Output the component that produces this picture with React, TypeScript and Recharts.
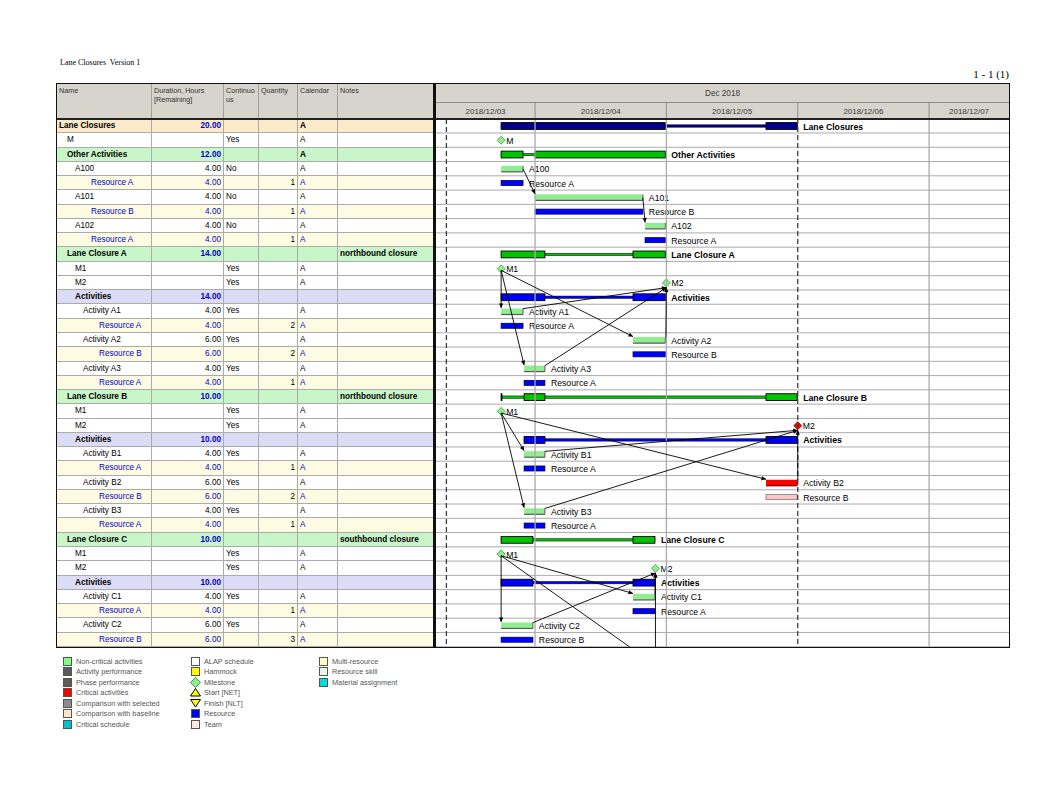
import React from "react";
import { Bar, BarChart, ReferenceLine, XAxis, YAxis } from "recharts";

// ---- table data ----
const ROW_NAMES = [
  "Lane Closures", "M", "Other Activities", "A100", "Resource A", "A101", "Resource B", "A102", "Resource A",
  "Lane Closure A", "M1", "M2", "Activities", "Activity A1", "Resource A", "Activity A2", "Resource B", "Activity A3", "Resource A",
  "Lane Closure B", "M1", "M2", "Activities", "Activity B1", "Resource A", "Activity B2", "Resource B", "Activity B3", "Resource A",
  "Lane Closure C", "M1", "M2", "Activities", "Activity C1", "Resource A", "Activity C2", "Resource B",
];
const ROW_KINDS = [
  "project", "milestone", "wbs", "task", "resource", "task", "resource", "task", "resource",
  "wbs", "milestone", "milestone", "group", "task", "resource", "task", "resource", "task", "resource",
  "wbs", "milestone", "milestone", "group", "task", "resource", "task", "resource", "task", "resource",
  "wbs", "milestone", "milestone", "group", "task", "resource", "task", "resource",
];
const ROW_LEVELS = [0, 1, 1, 2, 4, 2, 4, 2, 4, 1, 2, 2, 2, 3, 5, 3, 5, 3, 5, 1, 2, 2, 2, 3, 5, 3, 5, 3, 5, 1, 2, 2, 2, 3, 5, 3, 5];
const DURATIONS = [
  "20.00", "", "12.00", "4.00", "4.00", "4.00", "4.00", "4.00", "4.00",
  "14.00", "", "", "14.00", "4.00", "4.00", "6.00", "6.00", "4.00", "4.00",
  "10.00", "", "", "10.00", "4.00", "4.00", "6.00", "6.00", "4.00", "4.00",
  "10.00", "", "", "10.00", "4.00", "4.00", "6.00", "6.00",
];
const CONTINUOUS = [
  "", "Yes", "", "No", "", "No", "", "No", "",
  "", "Yes", "Yes", "", "Yes", "", "Yes", "", "Yes", "",
  "", "Yes", "Yes", "", "Yes", "", "Yes", "", "Yes", "",
  "", "Yes", "Yes", "", "Yes", "", "Yes", "",
];
const QUANTITIES = [
  "", "", "", "", "1", "", "1", "", "1",
  "", "", "", "", "", "2", "", "2", "", "1",
  "", "", "", "", "", "1", "", "2", "", "1",
  "", "", "", "", "", "1", "", "3",
];
const CALENDARS = [
  "A", "A", "A", "A", "A", "A", "A", "A", "A",
  "", "A", "A", "", "A", "A", "A", "A", "A", "A",
  "", "A", "A", "", "A", "A", "A", "A", "A", "A",
  "", "A", "A", "", "A", "A", "A", "A",
];
const NOTES = ROW_NAMES.map((_, i) =>
  i === 9 || i === 19 ? "northbound closure" : i === 29 ? "southbound closure" : ""
);
const HEADERS = [["Name"], ["Duration, Hours", "[Remaining]"], ["Continuo", "us"], ["Quantity"], ["Calendar"], ["Notes"]];

// ---- schedule data (hours from 2018/12/03 00:00) ----
const BAR_START = [
  17.8, 17.8, 17.8, 17.8, 17.8, 24.0, 24.0, 44.1, 44.1,
  17.8, 17.8, 48.0, 17.8, 17.8, 17.8, 41.9, 41.9, 22.0, 22.0,
  17.8, 17.8, 72.0, 22.0, 22.0, 22.0, 66.2, 66.2, 22.0, 22.0,
  17.8, 17.8, 46.0, 17.8, 41.9, 41.9, 17.8, 17.8,
];
const BAR_FINISH = [
  71.9, 17.8, 47.8, 21.8, 21.8, 43.7, 43.7, 47.8, 47.8,
  47.8, 17.8, 48.0, 47.8, 21.8, 21.8, 47.8, 47.8, 25.8, 25.8,
  71.9, 17.8, 72.0, 71.9, 25.8, 25.8, 71.9, 71.9, 25.8, 25.8,
  45.9, 17.8, 46.0, 45.9, 45.9, 45.9, 23.6, 23.6,
];
const CRITICAL_ROWS = [21, 25, 26];
const SUMMARY_PIECES: Record<number, [number, number][]> = {
  0: [[17.8, 47.8], [66.2, 71.9]],
  2: [[17.8, 21.8], [24.0, 47.8]],
  9: [[17.8, 25.8], [41.9, 47.8]],
  12: [[17.8, 25.8], [41.9, 47.8]],
  19: [[17.8, 17.95], [22.0, 25.8], [66.2, 71.9]],
  22: [[22.0, 25.8], [66.2, 71.9]],
  29: [[17.8, 23.6], [41.9, 45.9]],
  32: [[17.8, 23.6], [41.9, 45.9]],
};
// [from row, from hour, to row, to hour]; row 37 lies below the printed page
const LINKS: [number, number, number, number][] = [
  [3, 21.8, 5, 24.0],
  [5, 43.7, 7, 44.1],
  [10, 17.8, 13, 17.8],
  [10, 17.8, 17, 22.0],
  [10, 17.8, 15, 41.9],
  [13, 21.8, 11, 48.0],
  [17, 25.8, 11, 48.0],
  [15, 47.9, 11, 48.0],
  [20, 17.8, 23, 22.0],
  [20, 17.8, 27, 22.0],
  [20, 17.8, 25, 66.2],
  [23, 25.8, 21, 72.0],
  [27, 25.8, 21, 72.0],
  [25, 72.0, 21, 72.0],
  [30, 17.8, 35, 17.8],
  [30, 17.8, 33, 41.9],
  [30, 17.8, 37, 41.3],
  [35, 23.6, 31, 46.0],
  [33, 45.9, 31, 46.0],
  [37, 46.0, 31, 46.0],
];
const DAY_LABELS = ["2018/12/03", "2018/12/04", "2018/12/05", "2018/12/06", "2018/12/07"];
const DAY_STARTS = [0, 24, 48, 72, 96];
const MONTH_LABEL = "Dec 2018";
const DOMAIN: [number, number] = [5.9, 110.6];
const DATA_DATE = 7.8;
const FINISH_DATE = 72;

const LEGEND_1 = [
  ["Non-critical activities", "#80ff80"], ["Activity performance", "#5c5c5c"], ["Phase performance", "#5c5c5c"],
  ["Critical activities", "#ff0000"], ["Comparison with selected", "#8c8c8c"], ["Comparison with baseline", "#ffe6c4"],
  ["Critical schedule", "#00c4c4"],
];
const LEGEND_2 = [
  ["ALAP schedule", "#ffffff"], ["Hammock", "#ffff00"], ["Milestone", "diamond"], ["Start [NET]", "up"],
  ["Finish [NLT]", "down"], ["Resource", "#0000ff"], ["Team", "#ffe8e8"],
];
const LEGEND_3 = [["Multi-resource", "#ffffc8"], ["Resource skill", "#e8f6e8"], ["Material assignment", "#00dcdc"]];

// ---- layout ----
const TABLE_LEFT = 57;
const TOP = 84;
const HEADER_H = 35;
const BOTTOM = 647;
const SPLIT = 433;
const GANTT_LEFT = 436;
const RIGHT = 1009;
const ROW_H = (BOTTOM - TOP - HEADER_H) / ROW_NAMES.length;
const COL_WIDTHS = [95, 72, 35, 39, 40, 95];
const FONT = "'Liberation Sans', Arial, sans-serif";
const TEXT_BLUE = "#0000cc";
const ROW_BG: Record<string, string> = {
  project: "#fcebca", wbs: "#c9f6c9", group: "#dcdcf7", resource: "#fdfce2", task: "#ffffff", milestone: "#ffffff",
};
const HEAD_BG = "#d6d4cd";
const GRID = "#ababab";

const rows = ROW_NAMES.map((name, i) => ({ id: `r${i}`, index: i, name, start: BAR_START[i], finish: BAR_FINISH[i] }));
const isSummary = (k: string) => k === "project" || k === "wbs" || k === "group";
const dayMids = DAY_STARTS.map((s) => (Math.max(s, DOMAIN[0]) + Math.min(s + 24, DOMAIN[1])) / 2);

function RowShape(props: any) {
  const { x, y, width, height, payload } = props;
  const i = payload.index;
  const kind = ROW_KINDS[i];
  const crit = CRITICAL_ROWS.includes(i);
  const lo = BAR_START[i];
  const hi = BAR_FINISH[i];
  const px = (t: number) => (hi === lo ? x : x + ((t - lo) / (hi - lo)) * width);
  const cy = y + height / 2;
  let mark: React.ReactNode = null;
  let labelX = px(hi) + 6;

  if (kind === "milestone") {
    const mx = x;
    mark = (
      <polygon
        points={`${mx},${cy - 4} ${mx + 4},${cy} ${mx},${cy + 4} ${mx - 4},${cy}`}
        fill={crit ? "#ff0000" : "#90ee90"}
        stroke={crit ? "#900000" : "#3a9a3a"}
        strokeWidth={0.8}
      />
    );
    labelX = mx + 5;
  } else if (isSummary(kind)) {
    const color = kind === "project" ? "#000090" : kind === "wbs" ? "#00c400" : "#0000ff";
    mark = (
      <g>
        <rect x={px(lo)} y={cy - 1.2} width={px(hi) - px(lo)} height={2.4} fill={color} stroke="#000" strokeWidth={0.5} />
        {(SUMMARY_PIECES[i] || []).map(([s, e], k) => (
          <rect key={k} x={px(s)} y={cy - 3.4} width={Math.max(px(e) - px(s), 0.8)} height={6.8} fill={color} stroke="#000" strokeWidth={0.9} />
        ))}
      </g>
    );
  } else if (kind === "task") {
    const x0 = px(lo);
    const x1 = px(hi);
    mark = (
      <g>
        <rect x={x0} y={cy - 3} width={x1 - x0} height={6} fill={crit ? "#ff0000" : "#90ee90"} />
        <line x1={x0} x2={x1} y1={cy + 3} y2={cy + 3} stroke={crit ? "#7a0000" : "#5a5a5a"} strokeWidth={1.2} />
        <line x1={x1} x2={x1} y1={cy - 3} y2={cy + 3} stroke={crit ? "#7a0000" : "#5a5a5a"} strokeWidth={1} />
      </g>
    );
  } else {
    const x0 = px(lo);
    const x1 = px(hi);
    mark = (
      <rect x={x0} y={cy - 2.5} width={x1 - x0} height={5} fill={crit ? "#ffc4c4" : "#0000ff"} stroke={crit ? "#7a7a7a" : "#000050"} strokeWidth={0.8} />
    );
  }

  return (
    <g>
      {mark}
      <text
        x={labelX}
        y={cy + 0.5}
        dominantBaseline="central"
        fontSize={8.7}
        fontFamily={FONT}
        fontWeight={isSummary(kind) ? "bold" : "normal"}
        fill="#000"
      >
        {ROW_NAMES[i]}
      </text>
    </g>
  );
}

function RowBackground(props: any) {
  const { x, y, width, height } = props;
  return <line x1={x} x2={x + width} y1={y + height} y2={y + height} stroke={GRID} strokeWidth={1} />;
}

const boundaryShape = (dashed: boolean) => (p: any) => {
  const top = Math.min(p.y1, p.y2);
  const bot = Math.max(p.y1, p.y2);
  return (
    <g>
      <line x1={p.x1} x2={p.x1} y1={top - 16} y2={top} stroke="#8e8e8e" strokeWidth={1} />
      {dashed ? (
        <line x1={p.x1} x2={p.x1} y1={top} y2={bot} stroke="#3c3c3c" strokeWidth={1.3} strokeDasharray="5 3" />
      ) : (
        <line x1={p.x1} x2={p.x1} y1={top} y2={bot} stroke={GRID} strokeWidth={1.3} />
      )}
    </g>
  );
};

const linkShape = (fr: number, tr: number) => (p: any) => {
  const srcOff = fr >= ROW_NAMES.length;
  const tgtOff = tr >= ROW_NAMES.length;
  const down = tr > fr;
  const srcKind = ROW_KINDS[Math.min(fr, ROW_NAMES.length - 1)];
  const tgtKind = ROW_KINDS[Math.min(tr, ROW_NAMES.length - 1)];
  const sdy = srcOff ? ROW_H / 2 : srcKind === "milestone" ? 1.5 : down ? 0 : -3;
  const tdy = tgtOff ? ROW_H / 2 : tgtKind === "milestone" ? 4.5 : -3.6;
  const x1 = p.x1;
  const y1 = p.y1 + sdy;
  const x2 = p.x2;
  const y2 = p.y2 + tdy;
  const len = Math.hypot(x2 - x1, y2 - y1) || 1;
  const ux = (x2 - x1) / len;
  const uy = (y2 - y1) / len;
  const bx = x2 - ux * 4.5;
  const by = y2 - uy * 4.5;
  return (
    <g>
      <line x1={x1} y1={y1} x2={x2} y2={y2} stroke="#000" strokeWidth={0.9} />
      {!tgtOff && (
        <polygon
          points={`${x2},${y2} ${bx - uy * 2.1},${by + ux * 2.1} ${bx + uy * 2.1},${by - ux * 2.1}`}
          fill="#000"
        />
      )}
    </g>
  );
};

function DayTick(props: any) {
  const { x, payload } = props;
  const k = dayMids.indexOf(payload.value);
  return (
    <text x={x} y={27} textAnchor="middle" dominantBaseline="central" fontSize={8} fontFamily={FONT} fill="#3a3a3a">
      {DAY_LABELS[k]}
    </text>
  );
}

function MonthTick(props: any) {
  return (
    <text x={props.x} y={9} textAnchor="middle" dominantBaseline="central" fontSize={8.2} fontFamily={FONT} fill="#3a3a3a">
      {MONTH_LABEL}
    </text>
  );
}

function Swatch({ spec }: { spec: string }) {
  if (spec === "diamond") {
    return (
      <svg width={11} height={11}>
        <polygon points="5.5,0.5 10.5,5.5 5.5,10.5 0.5,5.5" fill="#90ee90" stroke="#3a9a3a" />
      </svg>
    );
  }
  if (spec === "up" || spec === "down") {
    const pts = spec === "up" ? "5.5,1.5 10.5,9 0.5,9" : "0.5,1.5 10.5,1.5 5.5,9";
    return (
      <svg width={11} height={11}>
        <polygon points={pts} fill="#ffff00" stroke="#000" strokeWidth={1} />
      </svg>
    );
  }
  return <div style={{ width: 9, height: 9, background: spec, border: "1px solid #555", boxSizing: "border-box", margin: "1px" }} />;
}

function LegendColumn({ items, left }: { items: string[][]; left: number }) {
  return (
    <>
      {items.map(([label, spec], k) => (
        <div
          key={label}
          style={{ position: "absolute", left, top: 656 + k * 10.45, height: 11, display: "flex", alignItems: "center" }}
        >
          <Swatch spec={spec} />
          <span style={{ marginLeft: 3, fontSize: 7.3, fontFamily: FONT, color: "#555", whiteSpace: "nowrap" }}>{label}</span>
        </div>
      ))}
    </>
  );
}

function TableRow({ i }: { i: number }) {
  const kind = ROW_KINDS[i];
  const bold = isSummary(kind);
  const res = kind === "resource";
  const plain = kind === "task" || kind === "milestone";
  const cells = [
    { text: ROW_NAMES[i], right: false, pad: 2 + ROW_LEVELS[i] * 8, bold, color: res ? TEXT_BLUE : "#000" },
    { text: DURATIONS[i], right: true, pad: 2, bold, color: plain ? "#000" : TEXT_BLUE },
    { text: CONTINUOUS[i], right: false, pad: 2, bold: false, color: "#000" },
    { text: QUANTITIES[i], right: true, pad: 2, bold: false, color: "#000" },
    { text: CALENDARS[i], right: false, pad: 2, bold: kind === "project" || kind === "wbs", color: res ? TEXT_BLUE : "#000" },
    { text: NOTES[i], right: false, pad: 2, bold: true, color: "#000" },
  ];
  return (
    <div style={{ display: "flex", height: ROW_H, background: ROW_BG[kind] }}>
      {cells.map((c, k) => (
        <div
          key={k}
          style={{
            width: COL_WIDTHS[k],
            boxSizing: "border-box",
            borderRight: k < cells.length - 1 ? `1px solid ${GRID}` : "none",
            borderBottom: `1px solid ${GRID}`,
            paddingLeft: c.right ? 0 : c.pad,
            paddingRight: c.right ? c.pad : 0,
            textAlign: c.right ? "right" : "left",
            fontSize: 8.2,
            lineHeight: `${ROW_H - 1}px`,
            fontWeight: c.bold ? "bold" : "normal",
            color: c.color,
            whiteSpace: "nowrap",
            overflow: "hidden",
          }}
        >
          {c.text}
        </div>
      ))}
    </div>
  );
}

export default function App() {
  return (
    <div style={{ position: "absolute", left: 0, top: 0, width: 1039, height: 800, background: "#fff", fontFamily: FONT }}>
      <div style={{ position: "absolute", left: 60, top: 58, fontFamily: "'Liberation Serif', 'Times New Roman', serif", fontSize: 8, whiteSpace: "pre" }}>
        {"Lane Closures  Version 1"}
      </div>
      <div style={{ position: "absolute", right: 1039 - RIGHT, top: 68, fontFamily: "'Liberation Serif', 'Times New Roman', serif", fontSize: 11 }}>
        1 - 1 (1)
      </div>

      {/* table header */}
      <div style={{ position: "absolute", left: TABLE_LEFT, top: TOP, height: HEADER_H, display: "flex", background: HEAD_BG }}>
        {HEADERS.map((lines, k) => (
          <div
            key={k}
            style={{
              width: COL_WIDTHS[k],
              boxSizing: "border-box",
              borderRight: k < HEADERS.length - 1 ? "1px solid #a0a0a0" : "none",
              padding: "3px 2px",
              fontSize: 7.2,
              lineHeight: "8.5px",
              color: "#333",
            }}
          >
            {lines.map((l) => (
              <div key={l}>{l}</div>
            ))}
          </div>
        ))}
      </div>

      {/* table body */}
      <div style={{ position: "absolute", left: TABLE_LEFT, top: TOP + HEADER_H }}>
        {ROW_NAMES.map((_, i) => (
          <TableRow key={i} i={i} />
        ))}
      </div>

      {/* gantt header background */}
      <div style={{ position: "absolute", left: GANTT_LEFT, top: TOP, width: RIGHT - GANTT_LEFT, height: HEADER_H, background: HEAD_BG }}>
        <div style={{ height: 19, boxSizing: "border-box", borderBottom: "1px solid #8e8e8e" }} />
      </div>

      {/* gantt */}
      <div style={{ position: "absolute", left: GANTT_LEFT, top: TOP }}>
        <BarChart
          layout="vertical"
          width={RIGHT - GANTT_LEFT}
          height={BOTTOM - TOP}
          data={rows}
          margin={{ top: 0, right: 0, bottom: 0, left: 0 }}
          barCategoryGap={0}
          barGap={0}
        >
          <XAxis
            xAxisId="day"
            type="number"
            orientation="top"
            domain={DOMAIN}
            allowDataOverflow
            ticks={dayMids}
            interval={0}
            tick={<DayTick />}
            tickLine={false}
            axisLine={false}
            height={16}
          />
          <XAxis
            xAxisId="month"
            type="number"
            orientation="top"
            domain={DOMAIN}
            allowDataOverflow
            ticks={[(DOMAIN[0] + DOMAIN[1]) / 2]}
            interval={0}
            tick={<MonthTick />}
            tickLine={false}
            axisLine={false}
            height={19}
          />
          <YAxis type="category" dataKey="id" hide />
          <Bar
            xAxisId="day"
            dataKey={(d: any) => [d.start, d.finish]}
            shape={<RowShape />}
            background={<RowBackground />}
            isAnimationActive={false}
          />
          {DAY_STARTS.filter((s) => s > DOMAIN[0] && s < DOMAIN[1]).map((s) => (
            <ReferenceLine key={`d${s}`} xAxisId="day" x={s} shape={boundaryShape(s === FINISH_DATE)} />
          ))}
          <ReferenceLine xAxisId="day" x={DATA_DATE} stroke="#3c3c3c" strokeWidth={1.3} strokeDasharray="5 3" />
          {LINKS.map(([fr, ft, tr, tt], k) => (
            <ReferenceLine
              key={`l${k}`}
              xAxisId="day"
              segment={[
                { x: ft, y: `r${Math.min(fr, ROW_NAMES.length - 1)}` },
                { x: tt, y: `r${Math.min(tr, ROW_NAMES.length - 1)}` },
              ]}
              shape={linkShape(fr, tr)}
            />
          ))}
        </BarChart>
      </div>

      {/* frame lines */}
      <div style={{ position: "absolute", left: TABLE_LEFT - 1, top: TOP - 1, width: RIGHT - TABLE_LEFT + 2, height: BOTTOM - TOP + 2, border: "1.5px solid #111", boxSizing: "border-box", pointerEvents: "none" }} />
      <div style={{ position: "absolute", left: TABLE_LEFT, top: TOP + HEADER_H - 1.5, width: RIGHT - TABLE_LEFT, height: 2, background: "#222" }} />
      <div style={{ position: "absolute", left: SPLIT, top: TOP - 1, width: GANTT_LEFT - SPLIT, height: BOTTOM - TOP + 2, background: "#111" }} />

      <LegendColumn items={LEGEND_1} left={62} />
      <LegendColumn items={LEGEND_2} left={190} />
      <LegendColumn items={LEGEND_3} left={318} />
    </div>
  );
}
